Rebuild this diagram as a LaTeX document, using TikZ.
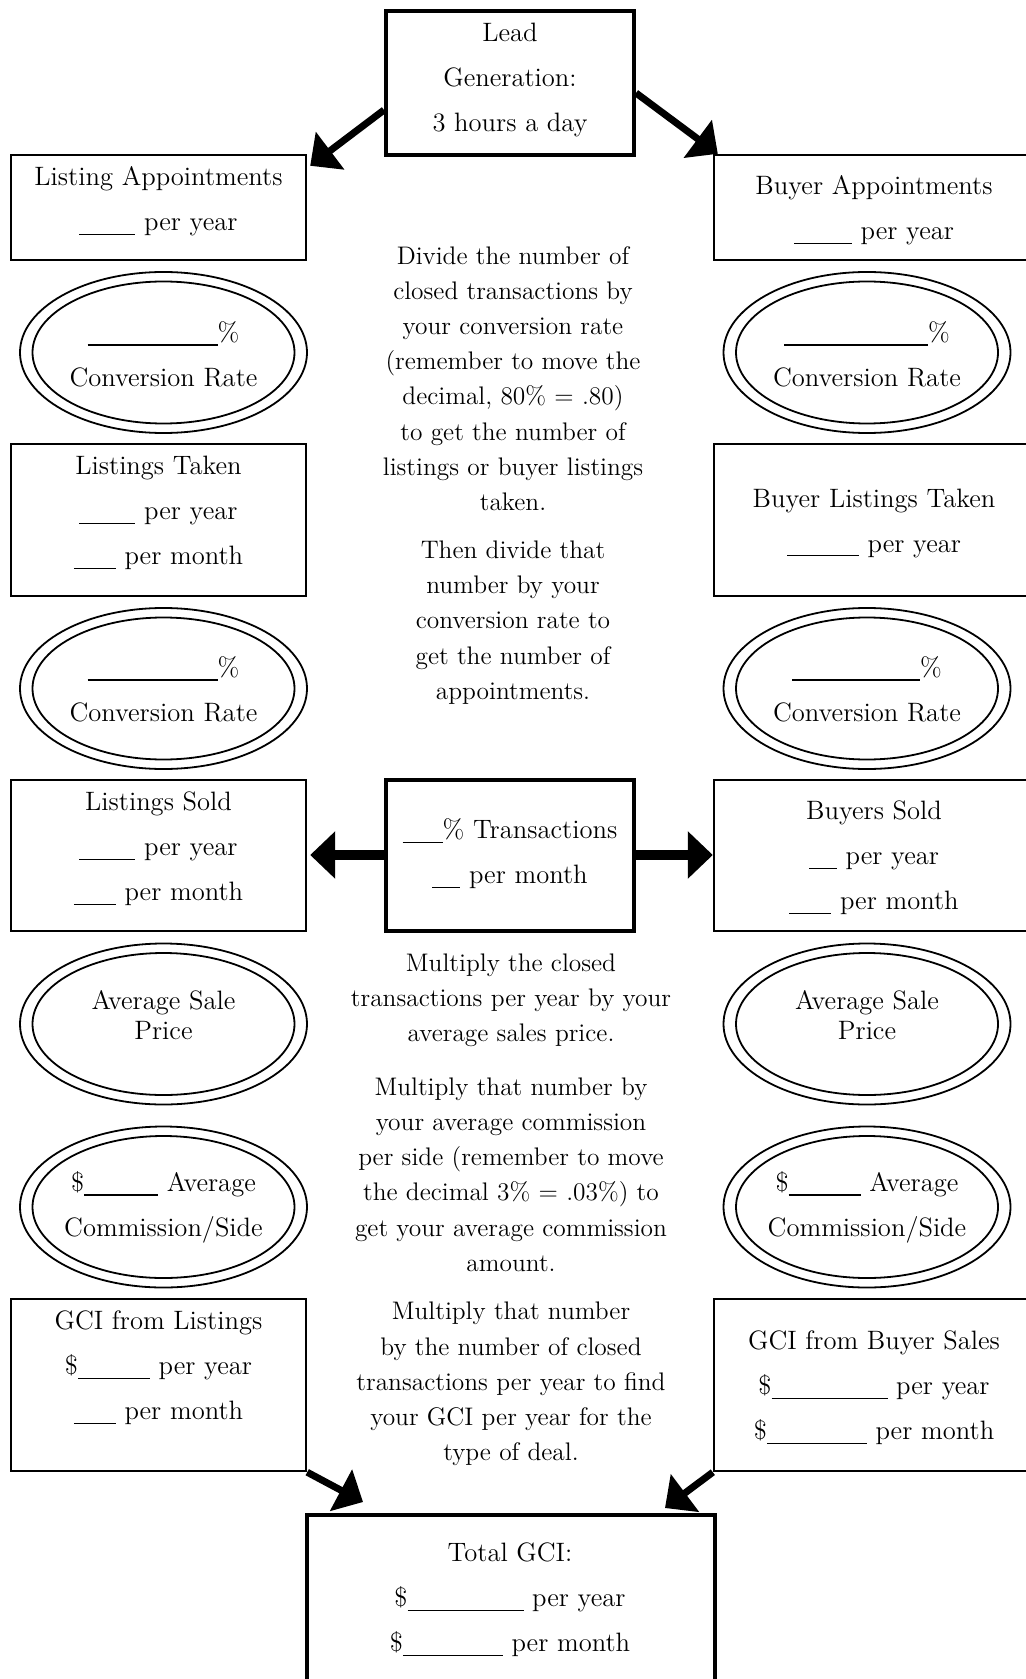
\documentclass[tikz,border=0pt]{standalone}
\usepackage{fontspec}
\usetikzlibrary{arrows.meta,shapes.geometric}
% a fill-in line for the worksheet blanks
\newcommand\blank[1]{\rule[-2.2pt]{#1}{0.55pt}}
\begin{document}
\begin{tikzpicture}[x=0.5pt,y=-0.5pt,
  thinbox/.style={draw,line width=1.2pt,rectangle,inner sep=0pt},
  thickbox/.style={draw,line width=2pt,rectangle,inner sep=0pt},
  boxtext/.style={align=center,inner sep=0pt,font=\fontsize{13.3}{22.5}\selectfont},
  tighttext/.style={align=center,inner sep=0pt,font=\fontsize{13.3}{15}\selectfont},
  note/.style={align=center,inner sep=0pt,font=\fontsize{12.7}{17.6}\selectfont},
  oval/.style={draw,ellipse,line width=0.9pt,inner sep=0pt,minimum width=143.5pt,minimum height=80.5pt},
  innerring/.style={line width=0.9pt},
  flowarrow/.style={line width=3.5pt,-{Triangle[length=12.5pt,width=23pt]}},
  sidearrow/.style={line width=5pt,-{Triangle[length=12.5pt,width=23pt]}}
]
\useasboundingbox (0,0) rectangle (1026,1679);
\clip (0,0) rectangle (1026,1679);

% ---- boxes ----
\node[thickbox,minimum width=124pt,minimum height=72pt] (lead) at (510,83) {};
\node[thinbox,minimum width=147.5pt,minimum height=52.5pt] (listappt) at (158.5,207.5) {};
\node[thinbox,minimum width=163pt,minimum height=52.5pt] (buyappt) at (877,207.5) {};
\node[thinbox,minimum width=147.5pt,minimum height=76pt] (listtaken) at (158.5,520) {};
\node[thinbox,minimum width=163pt,minimum height=76pt] (buytaken) at (877,520) {};
\node[thinbox,minimum width=147.5pt,minimum height=75.5pt] (listsold) at (158.5,855.5) {};
\node[thickbox,minimum width=124pt,minimum height=75.5pt] (trans) at (510,855) {};
\node[thinbox,minimum width=163pt,minimum height=75.5pt] (buysold) at (877,855.5) {};
\node[thinbox,minimum width=147.5pt,minimum height=86pt] (gcilist) at (158.5,1385) {};
\node[thinbox,minimum width=163pt,minimum height=86pt] (gcibuy) at (877,1385) {};
\node[thickbox,minimum width=204pt,minimum height=102.5pt] (total) at (511,1617.5) {};

% ---- double ovals ----
\foreach \nm/\cx/\cy in {convLa/163.5/352.5, convRa/867/352.5, convLb/163.5/688.5, convRb/867/688.5,
                         priceL/163.5/1024, priceR/867/1024, commL/163.5/1207, commR/867/1207}{
  \node[oval] (\nm) at (\cx,\cy) {};
  \draw[innerring] (\nm.center) ellipse [x radius=65.5pt, y radius=35.5pt];
}

% ---- connectors ----
\draw[flowarrow] ([shift={(0,27)}]lead.west) -- ([shift={(3,12)}]listappt.north east);
\draw[flowarrow] ([shift={(0,10)}]lead.east) -- ([shift={(5,0)}]buyappt.north west);
\draw[sidearrow] (trans.west) -- ([xshift=1.5pt]trans.west -| listsold.east);
\draw[sidearrow] (trans.east) -- (trans.east -| buysold.west);
\draw[flowarrow] (gcilist.south east) -- ([shift={(58,-11)}]total.north west);
\draw[flowarrow] (gcibuy.south west) -- ([shift={(-52,-5)}]total.north east);

% ---- box labels ----
\node[boxtext] (leadtxt) at (510,79.5) {Lead\\Generation:\\3 hours a day};
\node[boxtext] (listappttxt) at (158.5,201) {Listing Appointments\\\blank{28pt} per year};
\node[boxtext] (buyappttxt) at (874,210.5) {Buyer Appointments\\\blank{29pt} per year};
\node[boxtext] (listtakentxt) at (158.5,513) {Listings Taken\\\blank{28pt} per year\\\blank{21pt} per month};
\node[boxtext] (buytakentxt) at (874,523) {Buyer Listings Taken\\\blank{36pt} per year};
\node[boxtext] (listsoldtxt) at (158.5,848.5) {Listings Sold\\\blank{28pt} per year\\\blank{21pt} per month};
\node[boxtext] (transtxt) at (510,854) {\blank{20pt}\% Transactions\\\blank{14pt} per month};
\node[boxtext] (buysoldtxt) at (874,858) {Buyers Sold\\\blank{14pt} per year\\\blank{21pt} per month};
\node[boxtext] (gcilisttxt) at (158.5,1367.5) {GCI from Listings\\\$\blank{36pt} per year\\\blank{21pt} per month};
\node[boxtext] (gcibuytxt) at (874,1387.5) {GCI from Buyer Sales\\\$\blank{58pt} per year\\\$\blank{50pt} per month};
\node[boxtext] (totaltxt) at (510,1600) {Total GCI:\\\$\blank{58pt} per year\\\$\blank{50pt} per month};

% ---- oval labels ----
\node[boxtext] (convLatxt) at (163.5,354) {\blank{65pt}\%\\Conversion Rate};
\node[boxtext] (convRatxt) at (867,354) {\blank{72pt}\%\\Conversion Rate};
\node[boxtext] (convLbtxt) at (163.5,689) {\blank{65pt}\%\\Conversion Rate};
\node[boxtext] (convRbtxt) at (867,689) {\blank{64pt}\%\\Conversion Rate};
\node[tighttext] (priceLtxt) at (163.5,1015) {Average Sale\\Price};
\node[tighttext] (priceRtxt) at (867,1015) {Average Sale\\Price};
\node[boxtext] (commLtxt) at (163.5,1207) {\$\blank{37pt} Average\\Commission/Side};
\node[boxtext] (commRtxt) at (867,1207) {\$\blank{36pt} Average\\Commission/Side};

% ---- instructions down the middle ----
\node[note] (noteA) at (513,378.5) {Divide the number of\\closed transactions by\\your conversion rate\\(remember to move the\\decimal, 80\% = .80)\\to get the number of\\listings or buyer listings\\taken.};
\node[note] (noteB) at (513,622.5) {Then divide that\\number by your\\conversion rate to\\get the number of\\appointments.};
\node[note] (noteC) at (511,1000) {Multiply the closed\\transactions per year by your\\average sales price.};
\node[note] (noteD) at (511,1174.5) {Multiply that number by\\your average commission\\per side (remember to move\\the decimal 3\% = .03\%) to\\get your average commission\\amount.};
\node[note] (noteE) at (511,1384) {Multiply that number\\by the number of closed\\transactions per year to find\\your GCI per year for the\\type of deal.};
\end{tikzpicture}
\end{document}
